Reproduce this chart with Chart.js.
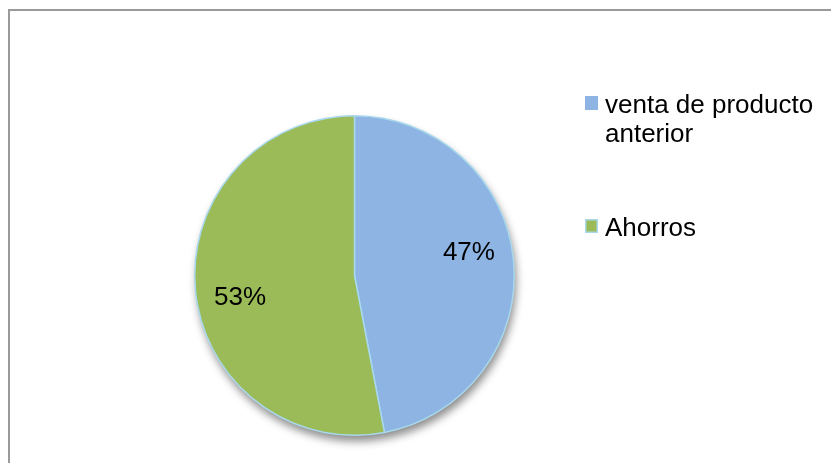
<!DOCTYPE html>
<html>
<head>
<meta charset="utf-8">
<script src="https://cdn.jsdelivr.net/npm/chart.js@4/dist/chart.umd.min.js"></script>
<style>
    html, body { margin: 0; padding: 0; background: #fff; overflow: hidden; }
    #marco {
        position: absolute; left: 8px; top: 9px; width: 900px; height: 500px;
        border-left: 2px solid #9a9a9a; border-top: 2px solid #9a9a9a;
    }
    #grafico { position: absolute; left: 0; top: 0; }
</style>
</head>
<body>
<div id="marco"></div>
<canvas id="grafico" width="831" height="463"></canvas>
<script>
const categorias = [['venta de producto', 'anterior'], 'Ahorros'];
const porcentajes = [47, 53];
const colores = ['#8eb4e3', '#9bbb59'];
const borde = '#a8d8ec';

const fuente = '26px "Liberation Sans", Arial, sans-serif';

// sombra gris bajo el círculo
const sombra = {
    id: 'sombra',
    beforeDatasetsDraw(chart) {
        const arco = chart.getDatasetMeta(0).data[0];
        if (!arco) return;
        const ctx = chart.ctx;
        ctx.save();
        ctx.shadowColor = 'rgba(0, 0, 0, 0.45)';
        ctx.shadowBlur = 9;
        ctx.shadowOffsetX = 2;
        ctx.shadowOffsetY = 6;
        ctx.beginPath();
        ctx.arc(arco.x, arco.y, arco.outerRadius, 0, Math.PI * 2);
        ctx.fillStyle = '#fff';
        ctx.fill();
        ctx.restore();
    }
};

// porcentajes dentro de cada sector
const etiquetas = {
    id: 'etiquetas',
    afterDatasetsDraw(chart) {
        const ctx = chart.ctx;
        const datos = chart.data.datasets[0].data;
        ctx.save();
        ctx.font = fuente;
        ctx.fillStyle = '#000';
        ctx.textAlign = 'center';
        ctx.textBaseline = 'middle';
        chart.getDatasetMeta(0).data.forEach((arco, i) => {
            const medio = (arco.startAngle + arco.endAngle) / 2 - 0.1;
            const r = arco.outerRadius * 0.73;
            ctx.fillText(datos[i] + '%', arco.x + Math.cos(medio) * r, arco.y + Math.sin(medio) * r);
        });
        ctx.restore();
    }
};

// leyenda a la derecha
const leyenda = {
    id: 'leyenda',
    afterDraw(chart) {
        const ctx = chart.ctx;
        const x = 585, filas = [96, 219];
        ctx.save();
        ctx.font = fuente;
        ctx.textBaseline = 'alphabetic';
        chart.data.labels.forEach((texto, i) => {
            const y = filas[i];
            ctx.fillStyle = colores[i];
            ctx.fillRect(x, y, 13, 14);
            if (i === 1) {
                ctx.strokeStyle = borde;
                ctx.lineWidth = 1.5;
                ctx.strokeRect(x + 0.75, y + 0.75, 11.5, 12.5);
            }
            ctx.fillStyle = '#000';
            const lineas = Array.isArray(texto) ? texto : [texto];
            lineas.forEach((l, j) => ctx.fillText(l, x + 20, y + 17 + j * 29));
        });
        ctx.restore();
    }
};

new Chart(document.getElementById('grafico'), {
    type: 'pie',
    data: {
        labels: categorias,
        datasets: [{
            data: porcentajes,
            backgroundColor: colores,
            borderColor: borde,
            borderWidth: 1.5
        }]
    },
    options: {
        responsive: false,
        animation: false,
        layout: { padding: { left: 194, right: 316, top: 115, bottom: 27 } },
        plugins: {
            legend: { display: false },
            tooltip: { enabled: false }
        }
    },
    plugins: [sombra, etiquetas, leyenda]
});
</script>
</body>
</html>
